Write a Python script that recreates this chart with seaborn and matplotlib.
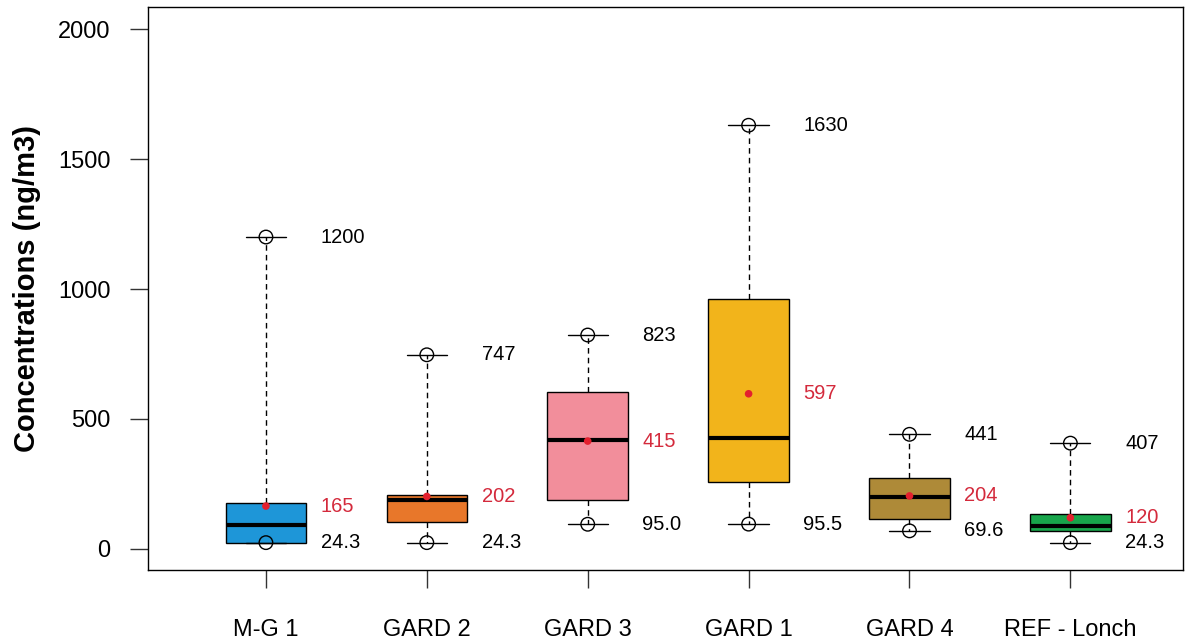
import numpy as np
import pandas as pd
import matplotlib
matplotlib.use('Agg')
import matplotlib.pyplot as plt
import seaborn as sns

# sites et résumé en 5 nombres (min, Q1, médiane, Q3, max)
sites = ['M-G 1', 'GARD 2', 'GARD 3', 'GARD 1', 'GARD 4', 'REF - Lonch']
mins = [24.3, 24.3, 95.0, 95.5, 69.6, 24.3]
q1 = [24.3, 104, 190, 258, 116, 70]
medians = [92, 188, 420, 427, 200, 88]
q3 = [177, 208, 604, 960, 274, 135]
maxs = [1200, 747, 823, 1630, 441, 407]
means = [165, 202, 415, 597, 204, 120]

min_labels = ['24.3', '24.3', '95.0', '95.5', '69.6', '24.3']
max_labels = ['1200', '747', '823', '1630', '441', '407']
mean_labels = ['165', '202', '415', '597', '204', '120']

couleurs = ['#1E96D8', '#E8772A', '#F28E9B', '#F2B41B', '#AE8A38', '#18A54B']

# tableau long : 5 valeurs par site -> les quartiles retombent exactement dessus
rows = []
for i, s in enumerate(sites):
    for v in [mins[i], q1[i], medians[i], q3[i], maxs[i]]:
        rows.append({'site': s, 'valeur': v})
df = pd.DataFrame(rows)

sns.set_style('white')
plt.rcParams['font.family'] = ['Liberation Sans', 'DejaVu Sans']
plt.rcParams['text.color'] = 'black'
plt.rcParams['axes.labelcolor'] = 'black'
plt.rcParams['xtick.color'] = 'black'
plt.rcParams['ytick.color'] = 'black'

fig = plt.figure(figsize=(11.87, 6.43), dpi=100)
ax = fig.add_axes([148 / 1187, 73 / 643, 1035 / 1187, 563 / 643])

sns.boxplot(data=df, x='site', y='valeur', hue='site', order=sites,
            palette=couleurs, saturation=1, width=0.5, whis=(0, 100),
            linecolor='black', linewidth=1, legend=False, ax=ax,
            medianprops={'linewidth': 3, 'color': 'black'},
            whiskerprops={'linestyle': (0, (4, 3)), 'color': 'black'},
            capprops={'color': 'black'})

pos = np.arange(len(sites))
# cercles aux extrémités
sns.scatterplot(x=np.concatenate([pos, pos]), y=mins + maxs, marker='o',
                s=95, facecolors='none', edgecolor='black', linewidth=1, ax=ax,
                zorder=5)
# moyennes
sns.scatterplot(x=pos, y=means, color='#E3202E', s=30, edgecolor='none',
                ax=ax, zorder=6)

for i in range(len(sites)):
    ax.text(i + 0.34, maxs[i], max_labels[i], fontsize=14.5, va='center', ha='left')
    ax.text(i + 0.34, mins[i], min_labels[i], fontsize=14.5, va='center', ha='left')
    ax.text(i + 0.34, means[i], mean_labels[i], fontsize=14.5, va='center',
            ha='left', color='#D42A3C')

ax.set_xlim(-0.733, 5.70)
ax.set_ylim(-81, 2085)
ax.set_yticks([0, 500, 1000, 1500, 2000])
ax.set_xlabel('')
ax.set_ylabel('Concentrations (ng/m3)', fontsize=21, fontweight='bold', labelpad=12)

ax.tick_params(axis='y', direction='out', length=13, width=1, pad=14,
               labelsize=17, left=True, color='#333333')
ax.tick_params(axis='x', direction='out', length=13, width=1, pad=22,
               labelsize=17, bottom=True, color='#333333')
for sp in ax.spines.values():
    sp.set_color('black')
    sp.set_linewidth(1)

fig.savefig('out.png', dpi=100)
